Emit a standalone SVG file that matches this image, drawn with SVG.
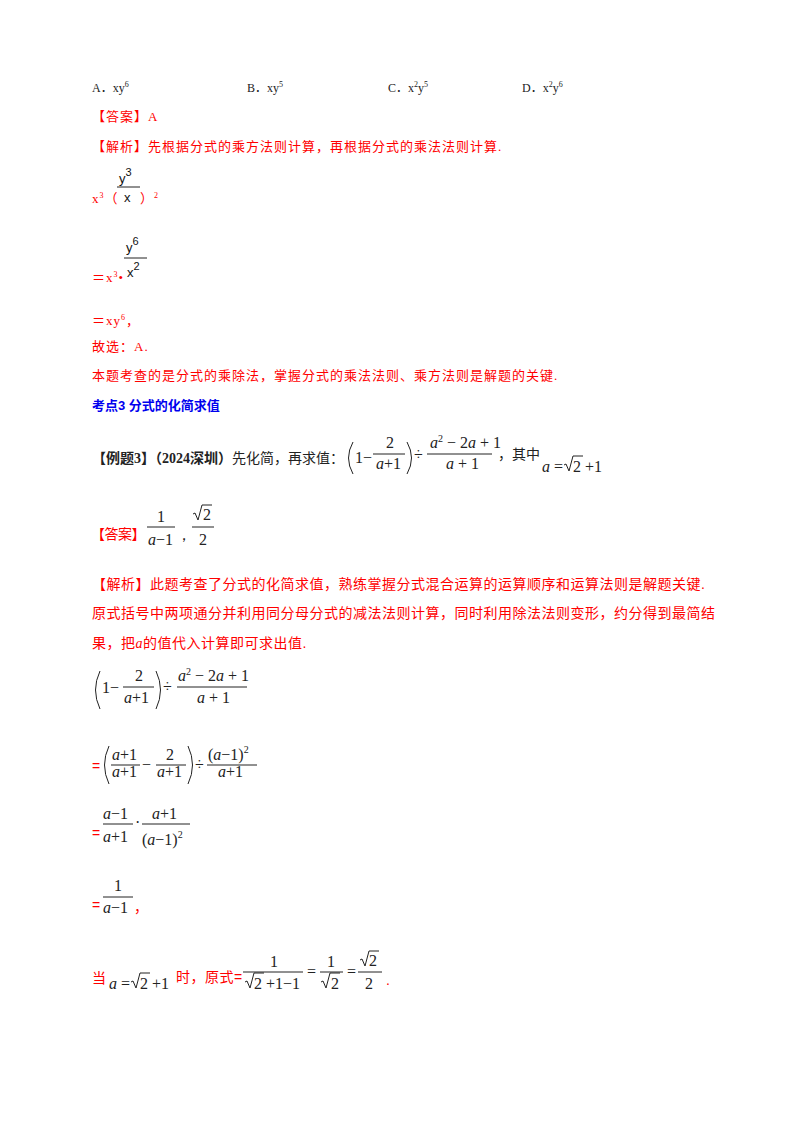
<svg xmlns="http://www.w3.org/2000/svg" width="800" height="1132" viewBox="0 0 800 1132">
<style>
.r{fill:#ff0000;font-family:"Liberation Serif","Noto Sans CJK SC",serif;font-size:13px;letter-spacing:1px}
.k{fill:#222;font-family:"Liberation Serif","Noto Sans CJK SC",serif;font-size:12px}
.m{fill:#222;font-family:"Liberation Serif",serif;font-size:16px}
.sm{fill:#111;font-family:"Liberation Sans",sans-serif;font-size:13px}
.b{fill:#0000ee;font-family:"Liberation Sans","Noto Sans CJK SC",sans-serif;font-size:13px;font-weight:bold}
.h{fill:#222;font-family:"Liberation Serif","Noto Sans CJK SC",serif;font-size:14px}
.z{fill:#ff0000;font-family:"Liberation Sans","Noto Sans CJK SC",sans-serif;font-size:14px;letter-spacing:0.5px}
.fl{stroke:#222;stroke-width:1}
.rad,.p{fill:none;stroke:#222;stroke-width:1}
.it{font-style:italic}
</style>
<rect width="800" height="1132" fill="#fff"/>
<g id="options" class="k">
<text x="92" y="92">A．xy<tspan font-size="8" dy="-5">6</tspan></text>
<text x="247" y="92">B．xy<tspan font-size="8" dy="-5">5</tspan></text>
<text x="388" y="92">C．x<tspan font-size="8" dy="-5">2</tspan><tspan dy="5">y</tspan><tspan font-size="8" dy="-5">5</tspan></text>
<text x="522" y="92">D．x<tspan font-size="8" dy="-5">2</tspan><tspan dy="5">y</tspan><tspan font-size="8" dy="-5">6</tspan></text>
</g>
<g id="part1">
<text class="r" x="92" y="121">【答案】A</text>
<text class="r" x="92" y="151">【解析】先根据分式的乘方法则计算，再根据分式的乘法法则计算.</text>
<text class="sm" x="119" y="183">y<tspan font-size="11" dy="-7">3</tspan></text>
<line class="fl" x1="117" y1="187" x2="140" y2="187"/>
<text class="sm" x="124" y="202">x</text>
<text class="r" x="92" y="203">x<tspan font-size="8" dy="-5">3</tspan><tspan dy="5">（</tspan></text>
<text class="r" x="140" y="203">）<tspan font-size="8" dy="-5">2</tspan></text>
<text class="sm" x="126" y="252">y<tspan font-size="11" dy="-7">6</tspan></text>
<line class="fl" x1="124" y1="258" x2="147" y2="258"/>
<text class="sm" x="127" y="277">x<tspan font-size="11" dy="-7">2</tspan></text>
<text class="r" x="92" y="282">＝x<tspan font-size="8" dy="-5">3</tspan><tspan dy="5">•</tspan></text>
<text class="r" x="92" y="325">＝xy<tspan font-size="8" dy="-5">6</tspan><tspan dy="5">，</tspan></text>
<text class="r" x="92" y="351">故选：A.</text>
<text class="r" x="92" y="380">本题考查的是分式的乘除法，掌握分式的乘法法则、乘方法则是解题的关键.</text>
<text class="b" x="92" y="410">考点3 分式的化简求值</text>
</g>
<g id="example">
<text class="h" x="92" y="463"><tspan font-weight="bold">【例题3】（2024深圳）</tspan>先化简，再求值：</text>
<path class="p" d="M353,442 Q344,458 353,474"/>
<text class="m" x="355" y="463">1−</text>
<text class="m" x="386" y="448">2</text>
<line class="fl" x1="373" y1="454" x2="405" y2="454"/>
<text class="m" x="376" y="469"><tspan class="it">a</tspan>+1</text>
<path class="p" d="M407,442 Q416,458 407,474"/>
<text class="m" x="414" y="460">÷</text>
<text class="m" x="430" y="448"><tspan class="it">a</tspan><tspan font-size="10" dy="-6">2</tspan><tspan dy="6"> − 2</tspan><tspan class="it">a</tspan> + 1</text>
<line class="fl" x1="427" y1="454" x2="492" y2="454"/>
<text class="m" x="446" y="469"><tspan class="it">a</tspan> + 1</text>
<text class="h" x="498" y="459">，其中</text>
<text class="m" x="542" y="472"><tspan class="it">a</tspan> = </text>
<path class="rad" d="M564,465 l2,-1 l3,7 l4,-15 h10"/>
<text class="m" x="573" y="472">2 +1</text>
</g>
<g id="answer">
<text class="z" x="91" y="539" style="letter-spacing:-0.5px">【答案】</text>
<text class="m" x="157" y="522">1</text>
<line class="fl" x1="147" y1="527" x2="175" y2="527"/>
<text class="m" x="148" y="545"><tspan class="it">a</tspan>−1</text>
<text class="m" x="176" y="540" font-size="12">，</text>
<path class="rad" d="M193,514 l2,-1 l3,7 l4,-15 h10"/>
<text class="m" x="203" y="520">2</text>
<line class="fl" x1="192" y1="527" x2="214" y2="527"/>
<text class="m" x="199" y="545">2</text>
</g>
<g id="analysis">
<text class="z" x="92" y="589">【解析】此题考查了分式的化简求值，熟练掌握分式混合运算的运算顺序和运算法则是解题关键.</text>
<text class="z" x="92" y="618">原式括号中两项通分并利用同分母分式的减法法则计算，同时利用除法法则变形，约分得到最简结</text>
<text class="z" x="92" y="648">果，把<tspan class="it" font-family="Liberation Serif">a</tspan>的值代入计算即可求出值.</text>
</g>
<g id="step1">
<path class="p" d="M100,671 Q91,690 100,709"/>
<text class="m" x="102" y="693">1−</text>
<text class="m" x="135" y="681">2</text>
<line class="fl" x1="123" y1="687" x2="154" y2="687"/>
<text class="m" x="124" y="703"><tspan class="it">a</tspan>+1</text>
<path class="p" d="M156,671 Q165,690 156,709"/>
<text class="m" x="163" y="692">÷</text>
<text class="m" x="178" y="681"><tspan class="it">a</tspan><tspan font-size="10" dy="-6">2</tspan><tspan dy="6"> − 2</tspan><tspan class="it">a</tspan> + 1</text>
<line class="fl" x1="177" y1="687" x2="247" y2="687"/>
<text class="m" x="197" y="703"><tspan class="it">a</tspan> + 1</text>
</g>
<g id="step2">
<text class="z" x="92" y="771">=</text>
<path class="p" d="M109,746 Q100,765 109,784"/>
<text class="m" x="112" y="760"><tspan class="it">a</tspan>+1</text>
<line class="fl" x1="111" y1="765" x2="140" y2="765"/>
<text class="m" x="112" y="777"><tspan class="it">a</tspan>+1</text>
<text class="m" x="142" y="770">−</text>
<text class="m" x="166" y="760">2</text>
<line class="fl" x1="156" y1="765" x2="186" y2="765"/>
<text class="m" x="157" y="777"><tspan class="it">a</tspan>+1</text>
<path class="p" d="M188,746 Q197,765 188,784"/>
<text class="m" x="195" y="770">÷</text>
<text class="m" x="208" y="760">(<tspan class="it">a</tspan>−1)<tspan font-size="10" dy="-7">2</tspan></text>
<line class="fl" x1="207" y1="765" x2="257" y2="765"/>
<text class="m" x="218" y="777"><tspan class="it">a</tspan>+1</text>
</g>
<g id="step3">
<text class="z" x="92" y="838">=</text>
<text class="m" x="103" y="819"><tspan class="it">a</tspan>−1</text>
<line class="fl" x1="103" y1="824" x2="133" y2="824"/>
<text class="m" x="103" y="842"><tspan class="it">a</tspan>+1</text>
<text class="m" x="135" y="828">·</text>
<text class="m" x="152" y="819"><tspan class="it">a</tspan>+1</text>
<line class="fl" x1="142" y1="824" x2="190" y2="824"/>
<text class="m" x="142" y="845">(<tspan class="it">a</tspan>−1)<tspan font-size="10" dy="-7">2</tspan></text>
</g>
<g id="step4">
<text class="z" x="92" y="910">=</text>
<text class="m" x="114" y="891">1</text>
<line class="fl" x1="103" y1="897" x2="133" y2="897"/>
<text class="m" x="103" y="913"><tspan class="it">a</tspan>−1</text>
<text class="z" x="134" y="912">，</text>
</g>
<g id="final">
<text class="z" x="92" y="983">当</text>
<text class="m" x="109" y="989"><tspan class="it">a</tspan> = </text>
<path class="rad" d="M131,982 l2,-1 l3,7 l4,-15 h10"/>
<text class="m" x="140" y="989">2 +1</text>
<text class="z" x="176" y="982">时，原式=</text>
<text class="m" x="270" y="967">1</text>
<line class="fl" x1="243" y1="972" x2="303" y2="972"/>
<path class="rad" d="M245,982 l2,-1 l3,7 l4,-15 h10"/>
<text class="m" x="254" y="989">2 +1−1</text>
<text class="m" x="307" y="977">=</text>
<text class="m" x="327" y="967">1</text>
<line class="fl" x1="320" y1="972" x2="343" y2="972"/>
<path class="rad" d="M321,982 l2,-1 l3,7 l4,-15 h10"/>
<text class="m" x="331" y="989">2</text>
<text class="m" x="347" y="977">=</text>
<path class="rad" d="M360,960 l2,-1 l3,7 l4,-15 h10"/>
<text class="m" x="369" y="966">2</text>
<line class="fl" x1="358" y1="972" x2="382" y2="972"/>
<text class="m" x="365" y="989">2</text>
<text class="z" x="386" y="985">.</text>
</g>
</svg>
